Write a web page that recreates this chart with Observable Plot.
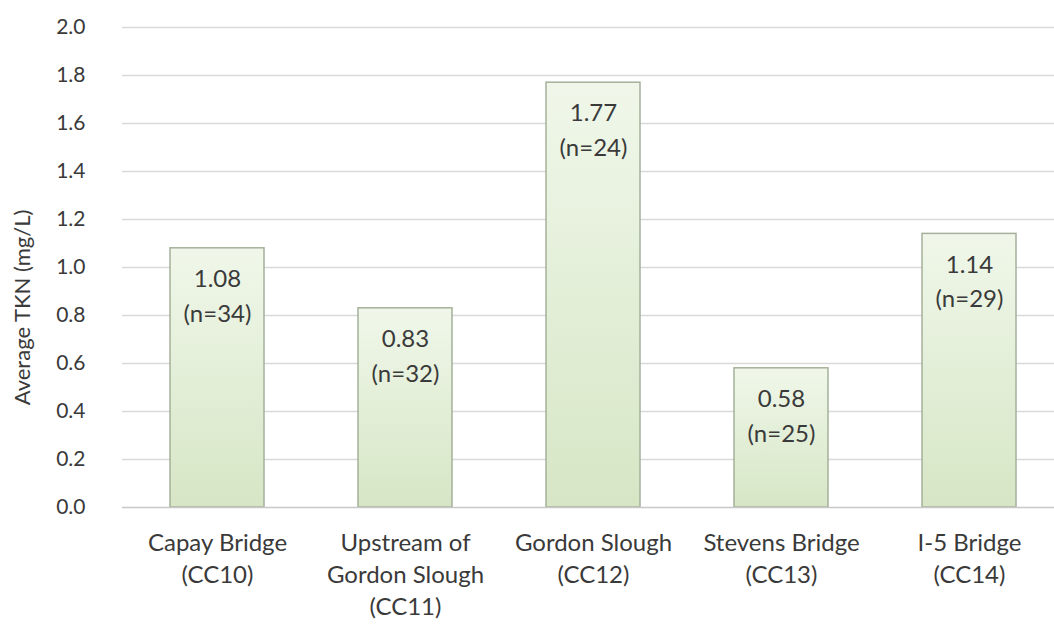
<!DOCTYPE html>
<html>
<head>
<meta charset="utf-8">
<script src="https://cdn.jsdelivr.net/npm/d3@7"></script>
<script src="https://cdn.jsdelivr.net/npm/@observablehq/plot@0.6"></script>
<style>
  html, body { margin: 0; padding: 0; background: #fff; }
  #chart svg { display: block; }
</style>
</head>
<body>
<div id="chart"></div>
<script>
const siteNames = ["Capay Bridge", "Upstream of\nGordon Slough", "Gordon Slough", "Stevens Bridge", "I-5 Bridge"];
const siteCodes = ["CC10", "CC11", "CC12", "CC13", "CC14"];
const avgTKN = [1.08, 0.83, 1.77, 0.58, 1.14];
const sampleCounts = [34, 32, 24, 25, 29];
const yTicks = [0, 0.2, 0.4, 0.6, 0.8, 1.0, 1.2, 1.4, 1.6, 1.8, 2.0];
const yTitle = "Average TKN (mg/L)";

const data = siteNames.map((n, i) => ({
  label: n + "\n(" + siteCodes[i] + ")",
  value: avgTKN[i],
  text: avgTKN[i].toFixed(2) + "\n(n=" + sampleCounts[i] + ")"
}));

const font = "Lato, 'Open Sans', sans-serif";
const textColor = "#3a3a3a";

const defs = () => {
  const d = d3.create("svg:defs");
  const g = d.append("linearGradient").attr("id", "barGrad")
    .attr("x1", 0).attr("y1", 0).attr("x2", 0).attr("y2", 1);
  g.append("stop").attr("offset", "0%").attr("stop-color", "#f0f7ea");
  g.append("stop").attr("offset", "100%").attr("stop-color", "#d6e6c5");
  return d.node();
};

const chart = Plot.plot({
  width: 1054,
  height: 624,
  marginLeft: 122,
  marginRight: 0,
  marginTop: 27,
  marginBottom: 117,
  style: { fontFamily: font, color: textColor, background: "#fff" },
  x: { domain: data.map(d => d.label), range: [122, 1064], paddingInner: 0.5, paddingOuter: 0.25 },
  y: { domain: [0, 2], ticks: yTicks },
  marks: [
    defs,
    Plot.ruleY(yTicks.filter(t => t > 0), { stroke: "#d9d9d9", strokeWidth: 1.5 }),
    Plot.barY(data, { x: "label", y: "value", fill: "url(#barGrad)", stroke: "#a5b19a", strokeWidth: 1.5 }),
    Plot.ruleY([0], { stroke: "#c8c8c8", strokeWidth: 1.5 }),
    Plot.text(data, { x: "label", y: "value", text: "text", lineAnchor: "top", dy: 14,
      fontSize: 24, lineHeight: 1.45, fill: textColor }),
    Plot.axisY({ ticks: yTicks, tickSize: 0, tickPadding: 37, fontSize: 21,
      tickFormat: d => d.toFixed(1), label: null }),
    Plot.axisX({ tickSize: 0, tickPadding: 21, fontSize: 24, lineHeight: 1.33, label: null }),
    Plot.text([yTitle], { frameAnchor: "left", textAnchor: "middle", dx: -100, dy: 40, rotate: -90, fontSize: 22, fill: textColor })
  ]
});
document.getElementById("chart").appendChild(chart);
</script>
</body>
</html>
